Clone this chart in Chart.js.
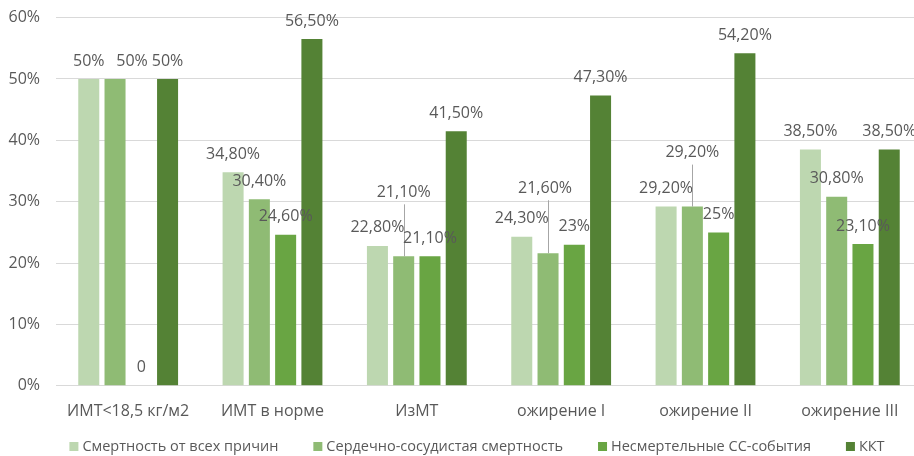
<!DOCTYPE html>
<html>
<head>
<meta charset="utf-8">
<title>ИМТ и исходы</title>
<script src="https://cdn.jsdelivr.net/npm/chart.js@4/dist/chart.umd.min.js"></script>
<style>
  html, body { margin: 0; padding: 0; background: #fff; overflow: hidden; }
  #wrap { width: 914px; height: 456px; overflow: hidden; }
  #mycanvas { display: block; margin-top: -8px; }
</style>
</head>
<body>
<div id="wrap"><canvas id="mycanvas" width="924" height="464"></canvas></div>
<script>
// categories and series, values in %
var groups = ['ИМТ<18,5 кг/м2', 'ИМТ в норме', 'ИзМТ', 'ожирение I', 'ожирение II', 'ожирение III'];
var allCause = [50, 34.8, 22.8, 24.3, 29.2, 38.5];
var cvDeath = [50, 30.4, 21.1, 21.6, 29.2, 30.8];
var nonFatal = [0, 24.6, 21.1, 23, 25, 23.1];
var kkt = [50, 56.5, 41.5, 47.3, 54.2, 38.5];
var seriesNames = ['Смертность от всех причин', 'Сердечно-сосудистая смертность', 'Несмертельные СС-события', 'ККТ'];
var yTicks = [0, 10, 20, 30, 40, 50, 60];

var colors = ['#bdd7b0', '#8fbb74', '#69a543', '#548235'];
var FONT = '"Open Sans", sans-serif';
var TXT = '#595959';

// label nudges [dataset, index, dx, dy, leader]
var nudges = [
  [1, 0, 17, 0, false],
  [1, 2, 0, -46, true],
  [1, 3, -3, -47, true],
  [1, 4, 0, -36, true]
];

function fmt(v) {
  if (v === 0) return '0';
  if (Math.round(v) === v) return v + '%';
  return v.toFixed(2).replace('.', ',') + '%';
}

var valueLabels = {
  id: 'valueLabels',
  afterDatasetsDraw: function(chart) {
    var ctx = chart.ctx;
    ctx.save();
    ctx.font = '16px ' + FONT;
    ctx.fillStyle = TXT;
    ctx.textAlign = 'center';
    ctx.textBaseline = 'middle';
    chart.data.datasets.forEach(function(ds, di) {
      chart.getDatasetMeta(di).data.forEach(function(bar, i) {
        var dx = 0, dy = 0, leader = false;
        nudges.forEach(function(n) {
          if (n[0] === di && n[1] === i) { dx = n[2]; dy = n[3]; leader = n[4]; }
        });
        var x = bar.x + dx;
        var y = bar.y - 18 + dy;
        if (leader) {
          ctx.strokeStyle = '#a6a6a6';
          ctx.lineWidth = 1;
          ctx.beginPath();
          ctx.moveTo(Math.round(bar.x) + 0.5, y + 12);
          ctx.lineTo(Math.round(bar.x) + 0.5, bar.y);
          ctx.stroke();
        }
        ctx.fillText(fmt(ds.data[i]), x, y);
      });
    });
    ctx.restore();
  }
};

// legend drawn along the bottom row
var bottomLegend = {
  id: 'bottomLegend',
  afterDraw: function(chart) {
    var ctx = chart.ctx;
    ctx.save();
    ctx.font = '14.5px ' + FONT;
    ctx.textBaseline = 'middle';
    var box = 9, gapText = 4, gapItem = 35, cy = 454.5;
    var widths = seriesNames.map(function(s) { return box + gapText + ctx.measureText(s).width; });
    var total = widths.reduce(function(a, b) { return a + b; }, 0) + gapItem * (widths.length - 1);
    var x = 477 - total / 2;
    seriesNames.forEach(function(s, i) {
      ctx.fillStyle = colors[i];
      ctx.fillRect(x, cy - box / 2, box, box);
      ctx.fillStyle = TXT;
      ctx.textAlign = 'left';
      ctx.fillText(s, x + box + gapText, cy);
      x += widths[i] + gapItem;
    });
    ctx.restore();
  }
};

var chartdata = {
  labels: groups,
  datasets: [allCause, cvDeath, nonFatal, kkt].map(function(d, i) {
    return {
      label: seriesNames[i],
      data: d,
      backgroundColor: colors[i],
      borderWidth: 0,
      categoryPercentage: 0.728,
      barPercentage: 0.8
    };
  })
};

var ctx = document.getElementById('mycanvas');
var BarGraph = new Chart(ctx, {
  type: 'bar',
  data: chartdata,
  options: {
    responsive: false,
    animation: false,
    layout: { padding: { top: 9, right: 2, bottom: 27, left: 0 } },
    plugins: {
      legend: { display: false },
      tooltip: { enabled: false }
    },
    scales: {
      x: {
        grid: { display: false },
        border: { display: false },
        ticks: { color: TXT, font: { family: FONT, size: 16 }, padding: 8, maxRotation: 0, autoSkip: false }
      },
      y: {
        min: 0,
        max: 60,
        afterFit: function(scale) { scale.width = 56; },
        afterBuildTicks: function(scale) {
          scale.ticks = yTicks.map(function(v) { return { value: v }; });
        },
        grid: { color: '#d9d9d9', lineWidth: 1, drawTicks: false },
        border: { display: false },
        ticks: {
          color: TXT,
          font: { family: FONT, size: 16 },
          padding: 16,
          callback: function(v) { return v + '%'; }
        }
      }
    }
  },
  plugins: [valueLabels, bottomLegend]
});
</script>
</body>
</html>
